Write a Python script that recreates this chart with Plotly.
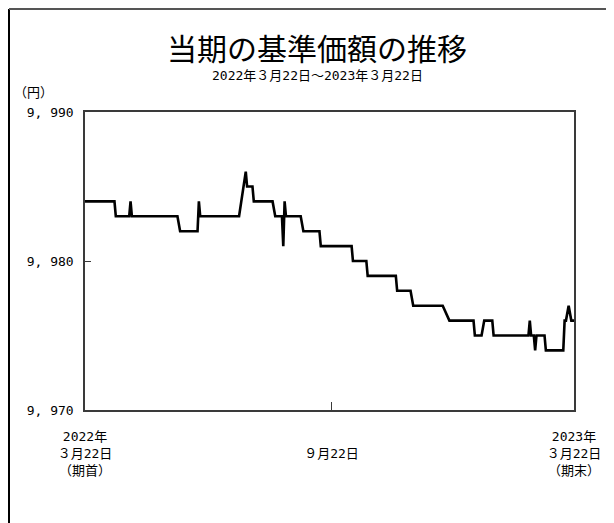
import plotly.graph_objects as go

# ---- data ----
dates = [
    "2022-03-22", "2022-04-13", "2022-04-14", "2022-04-24", "2022-04-25", "2022-04-26",
    "2022-05-30", "2022-06-01", "2022-06-14", "2022-06-15", "2022-06-16", "2022-07-15",
    "2022-07-20", "2022-07-21", "2022-07-25", "2022-07-26", "2022-08-09", "2022-08-11",
    "2022-08-16", "2022-08-17", "2022-08-18", "2022-08-19", "2022-08-30", "2022-09-01",
    "2022-09-13", "2022-09-14", "2022-10-07", "2022-10-08", "2022-10-18", "2022-10-19",
    "2022-11-09", "2022-11-10", "2022-11-20", "2022-11-22", "2022-12-14", "2022-12-19",
    "2023-01-06", "2023-01-07", "2023-01-12", "2023-01-14", "2023-01-20", "2023-01-21",
    "2023-02-16", "2023-02-17", "2023-02-18", "2023-02-20", "2023-02-21", "2023-02-22",
    "2023-02-28", "2023-03-01", "2023-03-14", "2023-03-15", "2023-03-16", "2023-03-18",
    "2023-03-20", "2023-03-22",
]
navs = [
    9984, 9984, 9983, 9983, 9984, 9983,
    9983, 9982, 9982, 9984, 9983, 9983,
    9986, 9985, 9985, 9984, 9984, 9983,
    9983, 9981, 9984, 9983, 9983, 9982,
    9982, 9981, 9981, 9980, 9980, 9979,
    9979, 9978, 9978, 9977, 9977, 9976,
    9976, 9975, 9975, 9976, 9976, 9975,
    9975, 9976, 9975, 9975, 9974, 9975,
    9975, 9974, 9974, 9976, 9976, 9977,
    9976, 9976,
]
x_tick_vals = ["2022-03-22", "2022-09-22", "2023-03-22"]
x_tick_text = ["2022年<br>３月22日<br>（期首）", "<br>９月22日<br> ", "2023年<br>３月22日<br>（期末）"]
y_tick_vals = [9970, 9980, 9990]
y_tick_text = ["9, 970", "9, 980", "9, 990"]

title_text = "当期の基準価額の推移"
subtitle_text = "2022年３月22日～2023年３月22日"
unit_text = "（円）"

FONT = "DejaVu Sans Mono, Noto Sans CJK JP, sans-serif"
AX = "#3a3a3a"

OFF = 8  # page body offset
W, H = 614, 523
L, R, T, B = 85 - OFF, W - (574 - OFF), 112 - OFF, H - (410 - OFF)
PW, PH = W - L - R, H - T - B

def px(xs):
    return (xs - OFF - L) / PW

def py(ys):
    return (H - B - (ys - OFF)) / PH

fig = go.Figure()
fig.add_trace(go.Scatter(
    x=dates, y=navs, mode="lines",
    line=dict(color="black", width=2.6),
    hoverinfo="skip", showlegend=False,
))

fig.update_layout(
    width=W, height=H,
    margin=dict(l=L, r=R, t=T, b=B),
    paper_bgcolor="white", plot_bgcolor="white",
    font=dict(family=FONT, size=13, color="black"),
    showlegend=False,
)
fig.update_xaxes(
    type="date", range=["2022-03-22", "2023-03-22"],
    tickvals=x_tick_vals, ticktext=x_tick_text,
    ticks="inside", ticklen=8, tickcolor=AX, tickwidth=1.2,
    showline=True, linecolor=AX, linewidth=1.5, mirror=True,
    showgrid=False, zeroline=False, ticklabelstandoff=14,
    tickfont=dict(family=FONT, size=13, color="black"),
)
fig.update_yaxes(
    range=[9970, 9990],
    tickvals=y_tick_vals, ticktext=y_tick_text,
    ticks="inside", ticklen=6, tickcolor=AX, tickwidth=1.2,
    showline=True, linecolor=AX, linewidth=1.5, mirror=True,
    showgrid=False, zeroline=False, ticklabelstandoff=7,
    tickfont=dict(family=FONT, size=13, color="black"),
)

fig.add_annotation(text=title_text, xref="paper", yref="paper", x=px(317), y=py(47),
                   showarrow=False, xanchor="center", yanchor="middle",
                   font=dict(family="Noto Sans CJK JP", size=30, color="black"))
fig.add_annotation(text=subtitle_text, xref="paper", yref="paper", x=px(317), y=py(76),
                   showarrow=False, xanchor="center", yanchor="middle",
                   font=dict(family=FONT, size=13, color="black"))
fig.add_annotation(text=unit_text, xref="paper", yref="paper", x=px(33), y=py(93),
                   showarrow=False, xanchor="center", yanchor="middle",
                   font=dict(family=FONT, size=13, color="black"))

# outer frame: left and top edges
fig.add_shape(type="line", xref="paper", yref="paper",
              x0=px(OFF + 1), x1=px(OFF + 1), y0=py(OFF + 1), y1=py(OFF + H + 5),
              line=dict(color="black", width=2))
fig.add_shape(type="line", xref="paper", yref="paper",
              x0=px(OFF + 1), x1=px(OFF + W + 5), y0=py(OFF + 1), y1=py(OFF + 1),
              line=dict(color="#555555", width=2))

fig.write_html("out.html")
